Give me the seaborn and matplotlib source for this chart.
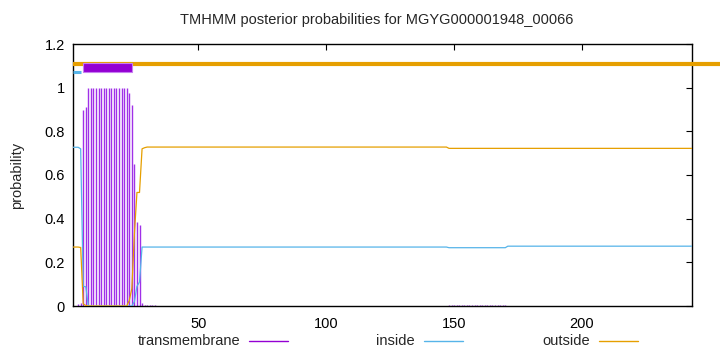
import numpy as np
import pandas as pd
import matplotlib
matplotlib.use("Agg")
import matplotlib.pyplot as plt
from matplotlib.lines import Line2D
from matplotlib.patches import Rectangle
import seaborn as sns

# ---------------- data (run-length encoded: (value, number of residues)) ----------------
seq_len = 243
tm_runs = [(0.0, 2), (0.01, 1), (0.012, 1), (0.90, 1), (0.91, 1), (1.0, 16),
           (0.975, 1), (0.92, 1), (0.65, 1), (0.386, 1), (0.37, 1), (0.012, 1),
           (0.006, 1), (0.003, 4), (0.0, 55), (0.002, 20), (0.0, 39), (0.006, 23),
           (0.0, 73)]
inside_runs = [(0.727, 3), (0.72, 1), (0.09, 1), (0.088, 1), (0.0, 18), (0.02, 1),
               (0.09, 1), (0.11, 1), (0.27, 120), (0.267, 23), (0.274, 73)]
outside_runs = [(0.27, 3), (0.268, 1), (0.01, 1), (0.002, 1), (0.0, 16), (0.025, 1),
                (0.08, 1), (0.33, 1), (0.52, 2), (0.72, 1), (0.725, 1), (0.728, 118),
                (0.722, 96)]

# predicted topology segments (start, end)
topo_inside = [(1, 4)]
topo_tm = [(5, 24)]
topo_outside = [(1, 256)]

x_ticks = [50, 100, 150, 200]
y_ticks = [0, 0.2, 0.4, 0.6, 0.8, 1.0, 1.2]
y_tick_labels = ["0", "0.2", "0.4", "0.6", "0.8", "1", "1.2"]
title = "TMHMM posterior probabilities for MGYG000001948_00066"
series_names = ["transmembrane", "inside", "outside"]


def expand(runs):
    return np.concatenate([np.full(n, v) for v, n in runs])


pos = np.arange(1, seq_len + 1)
df = pd.DataFrame({"pos": pos,
                   "transmembrane": expand(tm_runs),
                   "inside": expand(inside_runs),
                   "outside": expand(outside_runs)})

C_TM = "#a030e8"
C_BOX = "#9400d3"
C_IN = "#56b4e9"
C_OUT = "#e69f00"

sns.set_theme(style="white")
plt.rcParams["font.family"] = ["Liberation Sans", "DejaVu Sans"]
plt.rcParams["font.size"] = 10

fig = plt.figure(figsize=(7.2, 3.52), dpi=100)
ax = fig.add_axes([73 / 720, 46 / 352, 619 / 720, 262 / 352])

# impulses for transmembrane probability
ax.vlines(df["pos"], 0, df["transmembrane"], color=C_TM, lw=1.0, zorder=2)
# inside / outside lines
sns.lineplot(data=df, x="pos", y="inside", ax=ax, color=C_IN, lw=0.9, zorder=3)
sns.lineplot(data=df, x="pos", y="outside", ax=ax, color=C_OUT, lw=0.9, zorder=3)

# topology bars
for s, e in topo_outside:
    ax.plot([s, e], [1.108, 1.108], color=C_OUT, lw=3.0, solid_capstyle="butt",
            clip_on=False, zorder=4)
for s, e in topo_inside:
    ax.plot([s, e], [1.07, 1.07], color=C_IN, lw=2.2, solid_capstyle="butt",
            clip_on=False, zorder=4)
for s, e in topo_tm:
    ax.add_patch(Rectangle((s, 1.073), e - s, 0.039, facecolor=C_BOX,
                           edgecolor="#c77ff0", lw=0.8, zorder=5, clip_on=False))

ax.set_xlim(1, seq_len)
ax.set_ylim(0, 1.2)
ax.set_xticks(x_ticks)
ax.set_xticklabels([str(t) for t in x_ticks])
ax.set_yticks(y_ticks)
ax.set_yticklabels(y_tick_labels)
ax.tick_params(direction="in", length=4, width=0.8, top=True, right=True,
               labelsize=10.5, colors="black", pad=6)
ax.tick_params(axis="x", pad=8)
for sp in ax.spines.values():
    sp.set_color("black")
    sp.set_linewidth(1.0)
ax.set_xlabel("")
ax.set_ylabel("")

fig.text(377 / 720, 1 - 20 / 352, title, ha="center", va="center", fontsize=10.5)
fig.text(17 / 720, 1 - 175 / 352, "probability", ha="center", va="center",
         rotation=90, fontsize=10.5)

# key (gnuplot style: right-justified text followed by a line sample)
key_y = 1 - 341 / 352
for name, col, xend in zip(series_names, [C_BOX, C_IN, C_OUT], [288, 463, 638]):
    fig.text((xend - 48) / 720, key_y, name, ha="right", va="center", fontsize=10.5)
    fig.add_artist(Line2D([(xend - 39) / 720, xend / 720], [key_y, key_y],
                          color=col, lw=1.0, transform=fig.transFigure))

fig.savefig("out.png", dpi=100)
